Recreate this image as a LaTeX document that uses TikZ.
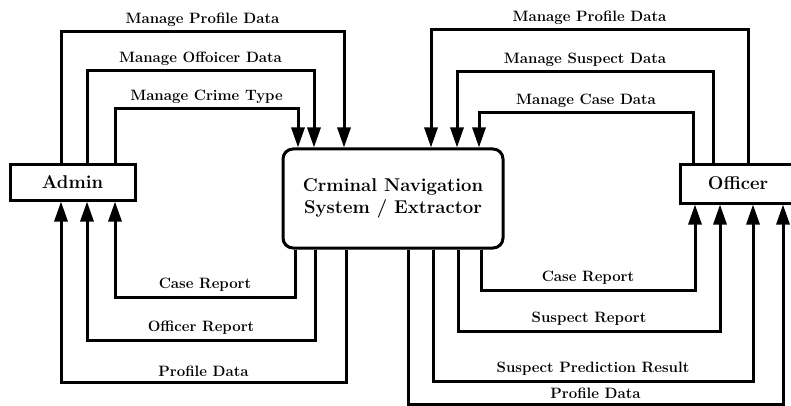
\documentclass[tikz,border=0pt]{standalone}
\usepackage{fontspec}
\usepackage{tikz}
\usetikzlibrary{arrows.meta, positioning}

\tikzset{
  entity/.style={draw, line width=3pt, inner sep=0pt, font=\bfseries\fontsize{18.5}{22}\selectfont},
  flow/.style={line width=3pt, -{Triangle[length=20pt, width=13pt]}},
  lab/.style={above=1pt, font=\bfseries\fontsize{15}{16}\selectfont}
}

\begin{document}
\begin{tikzpicture}[x=1pt, y=-1pt]
  \useasboundingbox (0,0) rectangle (791,406);

  \node[entity, minimum width=125pt, minimum height=36pt] (admin) at (72.5,182) {Admin};
  \node[entity, rounded corners=10pt, minimum width=220pt, minimum height=99pt, align=center] (cns) at (393,198.5) {Crminal Navigation\\System / Extractor};
  \node[entity, minimum width=124pt, minimum height=39pt, text width=116pt, align=center] (officer) at (742,183.5) {\hspace*{-8pt}Officer};

  % admin -> system
  \foreach \x/\y/\xe/\lab in {
    61/32/344/{Manage Profile Data},
    87/71/314/{Manage Offoicer Data},
    115/109/298/{Manage Crime Type}} {
    \draw[flow] (admin.north -| \x,0) -- (\x,\y) -- node[lab]{\lab} (\xe,\y) -- (cns.north -| \xe,0);
  }

  % system -> admin
  \foreach \x/\y/\xe/\lab in {
    295/297/115/{Case Report},
    315/340/87/{Officer Report},
    346/382/61/{Profile Data}} {
    \draw[flow] (cns.south -| \x,0) -- (\x,\y) -- node[lab]{\lab} (\xe,\y) -- (admin.south -| \xe,0);
  }

  % officer -> system
  \foreach \x/\y/\xe/\lab in {
    748/30/431/{Manage Profile Data},
    713/72/457/{Manage Suspect Data},
    693/113/479/{Manage Case Data}} {
    \draw[flow] (officer.north -| \x,0) -- (\x,\y) -- node[lab]{\lab} (\xe,\y) -- (cns.north -| \xe,0);
  }

  % system -> officer
  \foreach \x/\y/\xe/\lab in {
    481/290/695/{Case Report},
    458/331/720/{Suspect Report},
    433/381/753/{Suspect Prediction Result},
    408/404/783/{Profile Data}} {
    \draw[flow] (cns.south -| \x,0) -- (\x,\y) -- node[lab]{\lab} (\xe,\y) -- (officer.south -| \xe,0);
  }
\end{tikzpicture}
\end{document}
